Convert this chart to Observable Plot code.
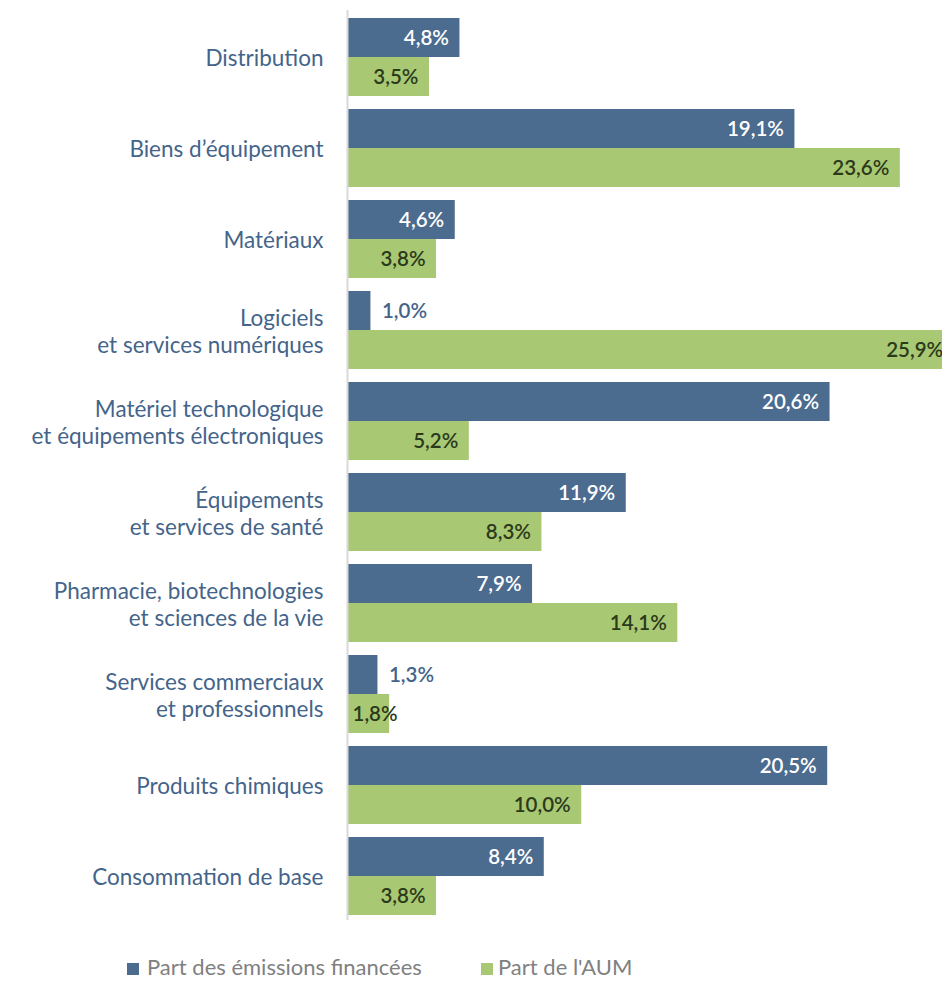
<!DOCTYPE html>
<html>
<head>
<meta charset="utf-8">
<script src="https://cdn.jsdelivr.net/npm/d3@7"></script>
<script src="https://cdn.jsdelivr.net/npm/@observablehq/plot@0.6"></script>
<style>
  body { margin: 0; background: #fff; font-family: Lato, "Open Sans", sans-serif; overflow: hidden; }
  #wrap { width: 942px; position: relative; }
  #legend { position: relative; height: 46px; width: 942px; }
  .sw { position: absolute; width: 12px; height: 12px; top: 28px; }
  .lt { position: absolute; top: 19px; font-size: 22px; line-height: 26px; color: #808080; white-space: nowrap; }
</style>
</head>
<body>
<div id="wrap"></div>
<script>
const categories = [
  "Distribution",
  "Biens d’équipement",
  "Matériaux",
  "Logiciels\net services numériques",
  "Matériel technologique\net équipements électroniques",
  "Équipements\net services de santé",
  "Pharmacie, biotechnologies\net sciences de la vie",
  "Services commerciaux\net professionnels",
  "Produits chimiques",
  "Consommation de base"
];
const emissions = [4.8, 19.1, 4.6, 1.0, 20.6, 11.9, 7.9, 1.3, 20.5, 8.4];
const aum = [3.5, 23.6, 3.8, 25.9, 5.2, 8.3, 14.1, 1.8, 10.0, 3.8];
const seriesNames = ["Part des émissions financées", "Part de l'AUM"];

const blue = "#4b6b8f";
const green = "#a9c873";
const labelBlue = "#44648a";
const darkText = "#2b3a1b";

const rowsE = categories.map((c, i) => ({cat: c, v: emissions[i]}));
const rowsA = categories.map((c, i) => ({cat: c, v: aum[i]}));
const fmt = v => v.toFixed(1).replace(".", ",") + "%";

const bw = 78;
const valFont = 20.5;
const chart = Plot.plot({
  width: 942,
  height: 935,
  marginLeft: 347,
  marginRight: 0,
  marginTop: 4,
  marginBottom: 7,
  style: {fontFamily: "Lato, 'Open Sans', sans-serif", background: "#fff", overflow: "hidden"},
  x: {domain: [0, 25.4], axis: null},
  y: {domain: categories, padding: 0.144, axis: null},
  marks: [
    Plot.barX(rowsE, {x: "v", y: "cat", fill: blue, insetBottom: bw / 2, clip: true}),
    Plot.barX(rowsA, {x: "v", y: "cat", fill: green, insetTop: bw / 2, clip: true}),
    Plot.ruleX([0], {stroke: "#d9d9d9", strokeWidth: 2, insetTop: 6, insetBottom: 8}),
    Plot.text(rowsE.filter(d => d.v >= 2), {x: "v", y: "cat", text: d => fmt(d.v), dy: -bw / 4, dx: -11, textAnchor: "end", fill: "#ffffff", fontWeight: 600, fontSize: valFont}),
    Plot.text(rowsE.filter(d => d.v < 2), {x: "v", y: "cat", text: d => fmt(d.v), dy: -bw / 4, dx: 11, textAnchor: "start", fill: labelBlue, fontWeight: 600, fontSize: valFont}),
    Plot.text(rowsA.filter(d => d.v >= 2), {x: "v", y: "cat", text: d => fmt(d.v), dy: bw / 4, dx: -11, textAnchor: "end", fill: darkText, fontWeight: 600, fontSize: valFont}),
    Plot.text(rowsA.filter(d => d.v < 2), {x: 0, y: "cat", text: d => fmt(d.v), dy: bw / 4, dx: 5, textAnchor: "start", fill: darkText, fontWeight: 600, fontSize: valFont}),
    Plot.axisY({tickSize: 0, tickPadding: 24, fontSize: 22.5, lineHeight: 1.22, fill: labelBlue, textAnchor: "end", label: null})
  ]
});
document.getElementById("wrap").appendChild(chart);

const legend = document.createElement("div");
legend.id = "legend";
const items = [
  {name: seriesNames[0], color: blue, sx: 127, tx: 147},
  {name: seriesNames[1], color: green, sx: 481, tx: 498}
];
for (const it of items) {
  const sw = document.createElement("div");
  sw.className = "sw"; sw.style.left = it.sx + "px"; sw.style.background = it.color;
  const t = document.createElement("div");
  t.className = "lt"; t.style.left = it.tx + "px"; t.textContent = it.name;
  legend.appendChild(sw); legend.appendChild(t);
}
document.getElementById("wrap").appendChild(legend);
</script>
</body>
</html>
